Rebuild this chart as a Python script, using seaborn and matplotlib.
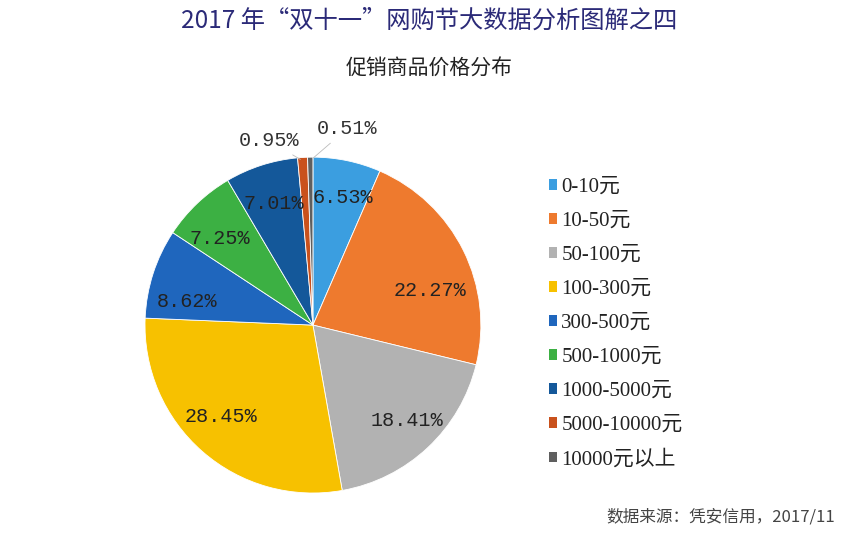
import numpy as np
import matplotlib
matplotlib.use("Agg")
import matplotlib.pyplot as plt
import matplotlib.transforms as mtransforms
import seaborn as sns

# data
categories = ["0-10元", "10-50元", "50-100元", "100-300元", "300-500元",
              "500-1000元", "1000-5000元", "5000-10000元", "10000元以上"]
shares = [6.53, 22.27, 18.41, 28.45, 8.62, 7.25, 7.01, 0.95, 0.51]
colors = ["#3b9ee0", "#ee7a2e", "#b2b2b2", "#f7c100", "#1f66bd",
          "#3cb043", "#14589a", "#c9511c", "#5f5f5f"]

sns.set_theme(style="white")
plt.rcParams["font.family"] = ["Noto Sans CJK SC", "DejaVu Sans"]

fig = plt.figure(figsize=(8.59, 5.40), dpi=100)
ax = fig.add_axes([0.1688, 0.087, 0.391, 0.622])

pal = sns.color_palette(colors)
wedges, texts, autotexts = ax.pie(
    shares, colors=pal, startangle=90, counterclock=False,
    autopct=lambda p: f"{p:.2f}%", pctdistance=0.76,
    wedgeprops=dict(edgecolor="white", linewidth=0.6),
)
ax.set_aspect("equal")
ax.set_xlim(-1, 1)
ax.set_ylim(-1, 1)

mono = ["Liberation Mono", "DejaVu Sans Mono"]
# small nudges (points) so labels sit where the original places them
nudge = {0: (3, 2), 1: (2, -16), 2: (5, -2), 3: (-6, 3), 4: (-3, -11), 5: (-4, -4)}
for i, t in enumerate(autotexts):
    t.set_family(mono)
    t.set_fontsize(14.5)
    t.set_color("#222222")
    if i in nudge:
        dx, dy = nudge[i]
        t.set_transform(t.get_transform() + mtransforms.ScaledTranslation(dx / 72, dy / 72, fig.dpi_scale_trans))

# small slices get their labels outside with a thin leader line
for i, ha, rx, ry in [(7, "right", 1.35, 1.1), (8, "left", -1.5, 1.17)]:
    w = wedges[i]
    ang = np.deg2rad((w.theta1 + w.theta2) / 2)
    autotexts[i].set_visible(False)
    ax.annotate(f"{shares[i]:.2f}%",
                xy=(0.98 * np.cos(ang), 0.98 * np.sin(ang)),
                xytext=(rx * np.cos(ang), ry * np.sin(ang)),
                ha=ha, va="center", family=mono, fontsize=14.5, color="#333333",
                annotation_clip=False,
                arrowprops=dict(arrowstyle="-", color="#bbbbbb", lw=0.6))

leg = fig.legend(wedges, categories, loc="upper left",
                 bbox_to_anchor=(0.617, 0.705), frameon=False,
                 prop={"family": ["Liberation Serif", "Noto Sans CJK SC"], "size": 15},
                 handlelength=0.4, handleheight=0.4, handletextpad=0.2,
                 labelspacing=0.72)
for h in leg.legend_handles:
    h.set_edgecolor("none")
for t in leg.get_texts():
    t.set_color("#222222")

fig.text(0.5, 0.962, "2017 年“双十一”网购节大数据分析图解之四", ha="center", va="center",
         fontsize=17.5, color="#2b2a78")
fig.text(0.5, 0.873, "促销商品价格分布", ha="center", va="center",
         fontsize=15, color="#222222")
fig.text(0.972, 0.043, "数据来源：凭安信用，2017/11", ha="right", va="center",
         fontsize=12, color="#444444")

fig.savefig("out.png", dpi=100)
